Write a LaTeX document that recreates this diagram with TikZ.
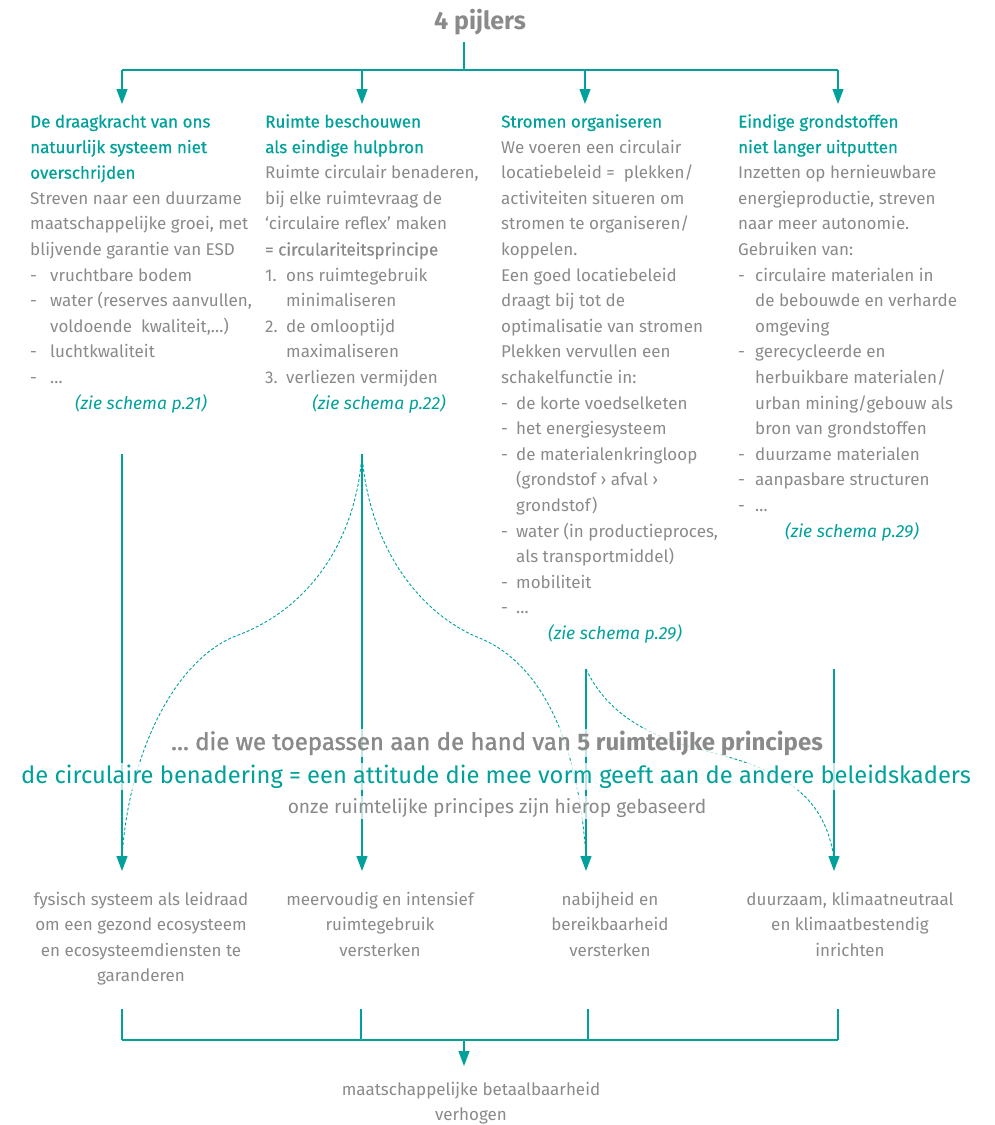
\documentclass[tikz,border=0pt]{standalone}
\usepackage{fontspec}
\setmainfont{Fira Sans}
\newfontfamily\headfont{Fira Sans}[FakeBold=0.6]
\newfontfamily\semifont{Fira Sans}[FakeBold=1.4]
\usetikzlibrary{arrows.meta}
\definecolor{tealc}{HTML}{00A19A}
\definecolor{txtgray}{HTML}{8A8A8A}
\newcommand\bodyfont{\fontsize{17}{25.6}\selectfont}
\newcommand\dli[2]{\makebox[#1][l]{-}#2}
\newcommand\cont[2]{\hspace*{#1}#2}
\tikzset{
  conn/.style={draw=tealc,line width=1.2pt},
  arr/.style={conn,-{Triangle[length=15pt,width=11pt]}},
  dsh/.style={draw=tealc,line width=0.9pt,dash pattern=on 3pt off 2pt},
  col/.style={anchor=base west,inner sep=0pt,text=txtgray},
  zie/.style={anchor=base,inner sep=0pt,text=tealc,font=\fontsize{17.5}{25.6}\selectfont\itshape},
  lab/.style={anchor=base,inner sep=0pt,text=txtgray},
  mid/.style={anchor=base,fill=white,fill opacity=0.75,text opacity=1,inner sep=2pt}
}
\begin{document}
\begin{tikzpicture}[x=1pt,y=-1pt]
\useasboundingbox (0,0) rectangle (994,1125);
% title
\node[anchor=base,inner sep=0pt,text=txtgray,font=\fontsize{25}{28}\selectfont\bfseries] (title) at (480,29) {4 pijlers};
% top tree
\coordinate (t0) at (464,42);
\coordinate (tj) at (464,70);
\coordinate (h1) at (122,70);
\coordinate (h2) at (362,70);
\coordinate (h3) at (585,70);
\coordinate (h4) at (838,70);
\coordinate (a1) at (122,104);
\coordinate (a2) at (362,104);
\coordinate (a3) at (585,104);
\coordinate (a4) at (838,104);
\draw[conn] (t0) -- (tj);
\draw[conn] (h1) -- (h4);
\draw[arr] (h1) -- (a1);
\draw[arr] (h2) -- (a2);
\draw[arr] (h3) -- (a3);
\draw[arr] (h4) -- (a4);
% columns
\node[col] (c1) at (30,127.5) {\parbox[t]{230pt}{\leavevmode\raggedright\bodyfont
{\color{tealc}\headfont De draagkracht van ons\\natuurlijk systeem niet\\overschrijden}\\
Streven naar een duurzame\\
maatschappelijke groei, met\\
blijvende garantie van ESD\\
\dli{20pt}{vruchtbare bodem}\\
\dli{20pt}{water (reserves aanvullen,}\\
\cont{20pt}{voldoende\ \ kwaliteit,…)}\\
\dli{20pt}{luchtkwaliteit}\\
\dli{20pt}{…}}};
\node[zie] (z1) at (141,409.1) {(zie schema p.21)};
\node[col] (c2) at (265,127.5) {\parbox[t]{230pt}{\leavevmode\raggedright\bodyfont
{\color{tealc}\headfont Ruimte beschouwen\\als eindige hulpbron}\\
Ruimte circulair benaderen,\\
bij elke ruimtevraag de\\
‘circulaire reflex’ maken\\
{\headfont = circulariteitsprincipe}\\
\makebox[21pt][l]{1.}ons ruimtegebruik\\
\cont{21pt}{minimaliseren}\\
\makebox[21pt][l]{2.}de omlooptijd\\
\cont{21pt}{maximaliseren}\\
\makebox[21pt][l]{3.}verliezen vermijden}};
\node[zie] (z2) at (379,409.1) {(zie schema p.22)};
\node[col] (c3) at (501,127.5) {\parbox[t]{230pt}{\leavevmode\raggedright\bodyfont
{\color{tealc}\headfont Stromen organiseren}\\
We voeren een circulair\\
locatiebeleid =\ \ plekken/\\
activiteiten situeren om\\
stromen te organiseren/\\
koppelen.\\
Een goed locatiebeleid\\
draagt bij tot de\\
optimalisatie van stromen\\
Plekken vervullen een\\
schakelfunctie in:\\
\dli{15pt}{de korte voedselketen}\\
\dli{15pt}{het energiesysteem}\\
\dli{15pt}{de materialenkringloop}\\
\cont{15pt}{(grondstof › afval ›}\\
\cont{15pt}{grondstof)}\\
\dli{15pt}{water (in productieproces,}\\
\cont{15pt}{als transportmiddel)}\\
\dli{15pt}{mobiliteit}\\
\dli{15pt}{…}}};
\node[zie] (z3) at (615,639.5) {(zie schema p.29)};
\node[col] (c4) at (738,127.5) {\parbox[t]{250pt}{\leavevmode\raggedright\bodyfont
{\color{tealc}\headfont Eindige grondstoffen\\niet langer uitputten}\\
Inzetten op hernieuwbare\\
energieproductie, streven\\
naar meer autonomie.\\
Gebruiken van:\\
\dli{17pt}{circulaire materialen in}\\
\cont{17pt}{de bebouwde en verharde}\\
\cont{17pt}{omgeving}\\
\dli{17pt}{gerecycleerde en}\\
\cont{17pt}{herbuikbare materialen/}\\
\cont{17pt}{urban mining/gebouw als}\\
\cont{17pt}{bron van grondstoffen}\\
\dli{17pt}{duurzame materialen}\\
\dli{17pt}{aanpasbare structuren}\\
\dli{17pt}{…}}};
\node[zie] (z4) at (852,537.1) {(zie schema p.29)};
% middle connectors
\coordinate (m1) at (122,454);
\coordinate (m2) at (362,454);
\coordinate (m3) at (586,669);
\coordinate (m4) at (834,669);
\coordinate (b1) at (122,871);
\coordinate (b2) at (362,871);
\coordinate (b3) at (586,871);
\coordinate (b4) at (834,871);
\coordinate (d1) at (122,858);
\coordinate (d3) at (586,858);
\coordinate (d4) at (834,858);
\draw[arr] (m1) -- (b1);
\draw[arr] (m2) -- (b2);
\draw[arr] (m3) -- (b3);
\draw[arr] (m4) -- (b4);
\draw[dsh] (m2) .. controls (356,540) and (310,610) .. (233,637) .. controls (170,665) and (128,760) .. (d1);
\draw[dsh] (m2) .. controls (368,540) and (414,610) .. (477,637) .. controls (550,665) and (580,760) .. (d3);
\draw[dsh] (m3) .. controls (610,720) and (660,740) .. (710,752) .. controls (790,772) and (825,800) .. (d4);
% middle text
\node[mid,text=txtgray,font=\fontsize{24}{28}\selectfont] (mt1) at (497,750) {{\semifont … die we toepassen aan de hand van }\textbf{5 ruimtelijke principes}};
\node[mid,text=tealc,font=\fontsize{23.7}{28}\selectfont] (mt2) at (496,783) {de circulaire benadering = een attitude die mee vorm geeft aan de andere beleidskaders};
\node[mid,text=txtgray,font=\fontsize{19.2}{22}\selectfont] (mt3) at (497,813) {onze ruimtelijke principes zijn hierop gebaseerd};
% bottom labels
\node[lab] (p1) at (141,905) {\parbox[t]{260pt}{\centering\bodyfont fysisch systeem als leidraad\\om een gezond ecosysteem\\en ecosysteemdiensten te\\garanderen}};
\node[lab] (p2) at (380,905) {\parbox[t]{260pt}{\centering\bodyfont meervoudig en intensief\\ruimtegebruik\\versterken}};
\node[lab] (p3) at (610,905) {\parbox[t]{260pt}{\centering\bodyfont nabijheid en\\bereikbaarheid\\versterken}};
\node[lab] (p4) at (850,905) {\parbox[t]{260pt}{\centering\bodyfont duurzaam, klimaatneutraal\\en klimaatbestendig\\inrichten}};
% bottom tree
\coordinate (q1) at (122,1009);
\coordinate (q2) at (361,1009);
\coordinate (q3) at (588,1009);
\coordinate (q4) at (838,1009);
\coordinate (r1) at (122,1040);
\coordinate (r2) at (361,1040);
\coordinate (r3) at (588,1040);
\coordinate (r4) at (838,1040);
\coordinate (rj) at (464,1040);
\coordinate (re) at (464,1066);
\draw[conn] (q1) -- (r1);
\draw[conn] (q2) -- (r2);
\draw[conn] (q3) -- (r3);
\draw[conn] (q4) -- (r4);
\draw[conn] (r1) -- (r4);
\draw[arr] (rj) -- (re);
\node[lab] (fin) at (471,1095) {\parbox[t]{300pt}{\centering\bodyfont maatschappelijke betaalbaarheid\\verhogen}};
\end{tikzpicture}
\end{document}
